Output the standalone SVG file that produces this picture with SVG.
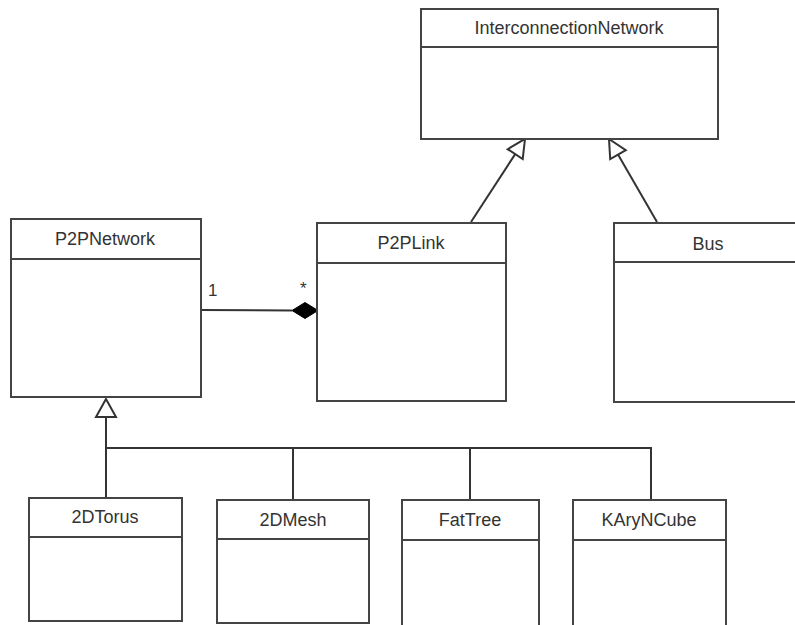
<svg xmlns="http://www.w3.org/2000/svg" width="795" height="625" viewBox="0 0 795 625">
<style>
.box{fill:#fff;stroke:#444;stroke-width:2}
.sep{stroke:#444;stroke-width:2}
.lbl{font-family:"Liberation Sans",Arial,sans-serif;font-size:18px;fill:#333;text-anchor:middle}
.ml{font-family:"Liberation Sans",Arial,sans-serif;font-size:17px;fill:#333}
.conn{fill:none;stroke:#333;stroke-width:2}
.tri{fill:#fff;stroke:#333;stroke-width:2;stroke-linejoin:miter}
</style>
<rect width="795" height="625" fill="#fff"/>
<g id="connectors">
  <line class="conn" x1="471" y1="222" x2="515.2" y2="154.1"/>
  <polygon class="tri" points="525,139 522.7,159 507.7,149.2"/>
  <line class="conn" x1="657" y1="222" x2="618" y2="154.6"/>
  <polygon class="tri" points="609,139 625.8,150.1 610.2,159.1"/>
  <line class="conn" x1="201" y1="310" x2="292" y2="310.5"/>
  <polygon points="292,310.5 305,302.5 318,310.5 305,318.5" fill="#000" stroke="#000" stroke-width="1"/>
  <text class="ml" x="208" y="296">1</text>
  <text class="ml" x="300" y="294">*</text>
  <polygon class="tri" points="106,399 96,417 116,417"/>
  <line class="conn" x1="106" y1="417" x2="106" y2="498"/>
  <polyline class="conn" points="106,448 651,448 651,500"/>
  <line class="conn" x1="293" y1="448" x2="293" y2="500"/>
  <line class="conn" x1="470" y1="448" x2="470" y2="500"/>
</g>
<g id="InterconnectionNetwork">
  <rect class="box" x="421" y="9" width="297" height="130"/>
  <line class="sep" x1="421" y1="47" x2="718" y2="47"/>
  <text class="lbl" x="569" y="34">InterconnectionNetwork</text>
</g>
<g id="P2PNetwork">
  <rect class="box" x="11" y="219" width="190" height="178"/>
  <line class="sep" x1="11" y1="259" x2="201" y2="259"/>
  <text class="lbl" x="105" y="245">P2PNetwork</text>
</g>
<g id="P2PLink">
  <rect class="box" x="317" y="223" width="189" height="178"/>
  <line class="sep" x1="317" y1="263" x2="506" y2="263"/>
  <text class="lbl" x="411" y="249">P2PLink</text>
</g>
<g id="Bus">
  <rect class="box" x="614" y="223" width="190" height="179"/>
  <line class="sep" x1="614" y1="262" x2="804" y2="262"/>
  <text class="lbl" x="708" y="250">Bus</text>
</g>
<g id="2DTorus">
  <rect class="box" x="29" y="498" width="153" height="123"/>
  <line class="sep" x1="29" y1="537" x2="182" y2="537"/>
  <text class="lbl" x="105" y="523">2DTorus</text>
</g>
<g id="2DMesh">
  <rect class="box" x="217" y="500" width="152" height="123"/>
  <line class="sep" x1="217" y1="539" x2="369" y2="539"/>
  <text class="lbl" x="293" y="526">2DMesh</text>
</g>
<g id="FatTree">
  <rect class="box" x="402" y="500" width="137" height="140"/>
  <line class="sep" x1="402" y1="540" x2="539" y2="540"/>
  <text class="lbl" x="470" y="526">FatTree</text>
</g>
<g id="KAryNCube">
  <rect class="box" x="573" y="500" width="153" height="140"/>
  <line class="sep" x1="573" y1="540" x2="726" y2="540"/>
  <text class="lbl" x="649" y="526">KAryNCube</text>
</g>
</svg>
